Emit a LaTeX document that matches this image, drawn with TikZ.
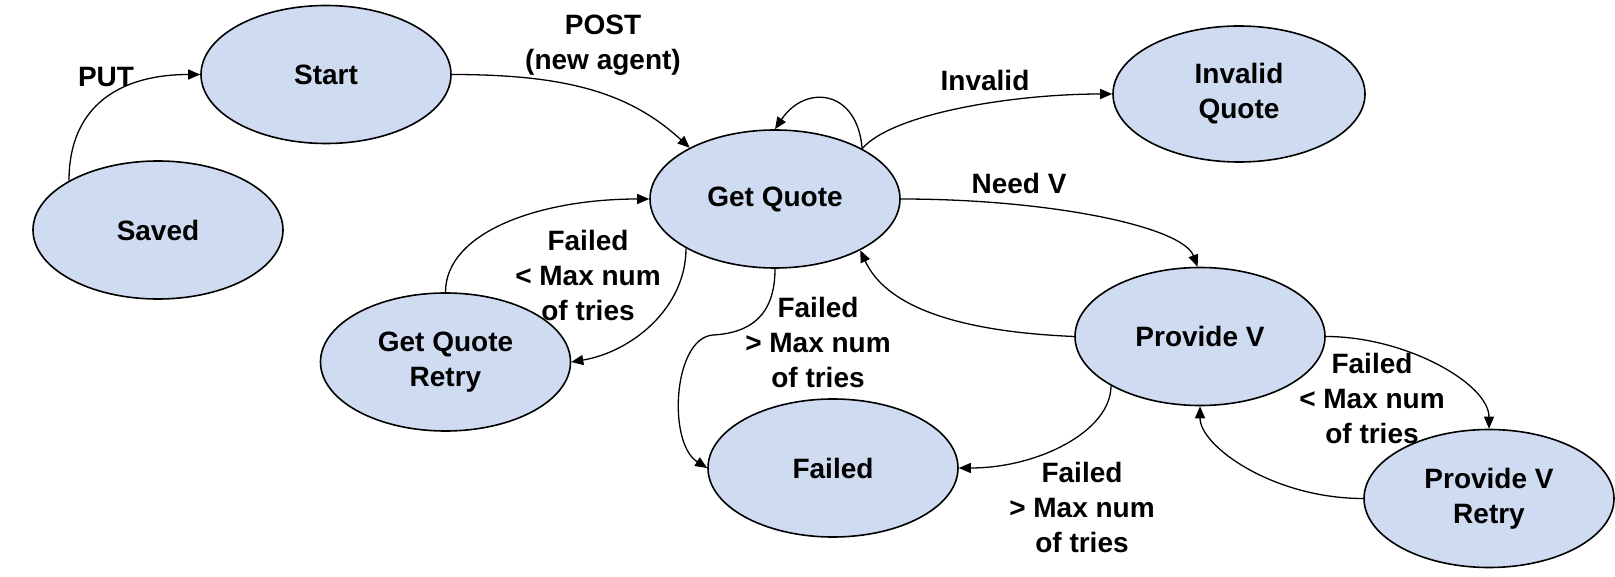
\documentclass[tikz,border=0pt]{standalone}
\usepackage{fontspec}
\setmainfont{Liberation Sans}
\usetikzlibrary{shapes.geometric,arrows.meta}
\definecolor{statefill}{RGB}{207,219,241}
\tikzset{
  state/.style={ellipse, draw=black, line width=1.6pt, fill=statefill,
    minimum width=250pt, minimum height=138pt, inner sep=0pt, align=center,
    font=\fontsize{28}{35}\selectfont\bfseries},
  lbl/.style={align=center, inner sep=0pt, font=\fontsize{28}{35}\selectfont\bfseries},
  conn/.style={line width=1.3pt, -{Triangle[length=12pt,width=10pt]}}
}
\begin{document}
\begin{tikzpicture}[x=1pt,y=-1pt]
\useasboundingbox (0,0) rectangle (1615,577);
% states
\node[state] (start) at (326,74.5) {Start};
\node[state] (saved) at (158,230) {Saved};
\node[state] (gq) at (775,199) {Get Quote};
\node[state, minimum width=252pt, minimum height=136pt] (iq) at (1239,94) {Invalid\\Quote};
\node[state] (retry) at (445.5,362) {Get Quote\\Retry};
\node[state] (pv) at (1200,336.5) {Provide V};
\node[state] (failed) at (833,468) {Failed};
\node[state] (pvr) at (1489,498.5) {Provide V\\Retry};
% labels
\node[lbl] (lput) at (106,77) {PUT};
\node[lbl] (lpost) at (603,45) {POST\\(new agent)};
\node[lbl] (linv) at (985,80) {Invalid};
\node[lbl] (lneed) at (1019,183) {Need V};
\node[lbl] (lf1) at (588,275.5) {Failed\\< Max num\\of tries};
\node[lbl] (lf2) at (818,342) {Failed\\> Max num\\of tries};
\node[lbl] (lf3) at (1372,398) {Failed\\< Max num\\of tries};
\node[lbl] (lf4) at (1082,507) {Failed\\> Max num\\of tries};
% connectors
\draw[conn] (saved.151.7) .. controls +(0,-75) and +(-80,0) .. (start.180);
\draw[conn] (start.0) .. controls +(115,0) and +(-60,-55) .. (gq.149.4);
\draw[conn] (gq.30) .. controls +(-5,-60) and +(30,-45) .. (gq.90);
\draw[conn] (gq.30) .. controls +(30,-35) and +(-100,0) .. (iq.180);
\draw[conn] (gq.0) .. controls +(150,0) and +(-15,-40) .. (pv.92);
\draw[conn] (pv.180) .. controls +(-120,-5) and +(25,55) .. (gq.-31);
\draw[conn] (gq.209.4) .. controls +(0,60) and +(60,-10) .. (retry.0);
\draw[conn] (retry.90) .. controls +(0,-60) and +(-110,0) .. (gq.180);
\coordinate (bend) at (713,335);
\draw[conn] (gq.270) .. controls +(0,47) and +(37,-2) .. (bend)
  .. controls +(-40,3) and +(-40,-25) .. (failed.180);
\draw[conn] (pv.209.9) .. controls +(0,45) and +(80,0) .. (failed.0);
\draw[conn] (pv.0) .. controls +(80,0) and +(0,-45) .. (pvr.90);
\draw[conn] (pvr.180) .. controls +(-90,0) and +(0,40) .. (pv.270);
\end{tikzpicture}
\end{document}
